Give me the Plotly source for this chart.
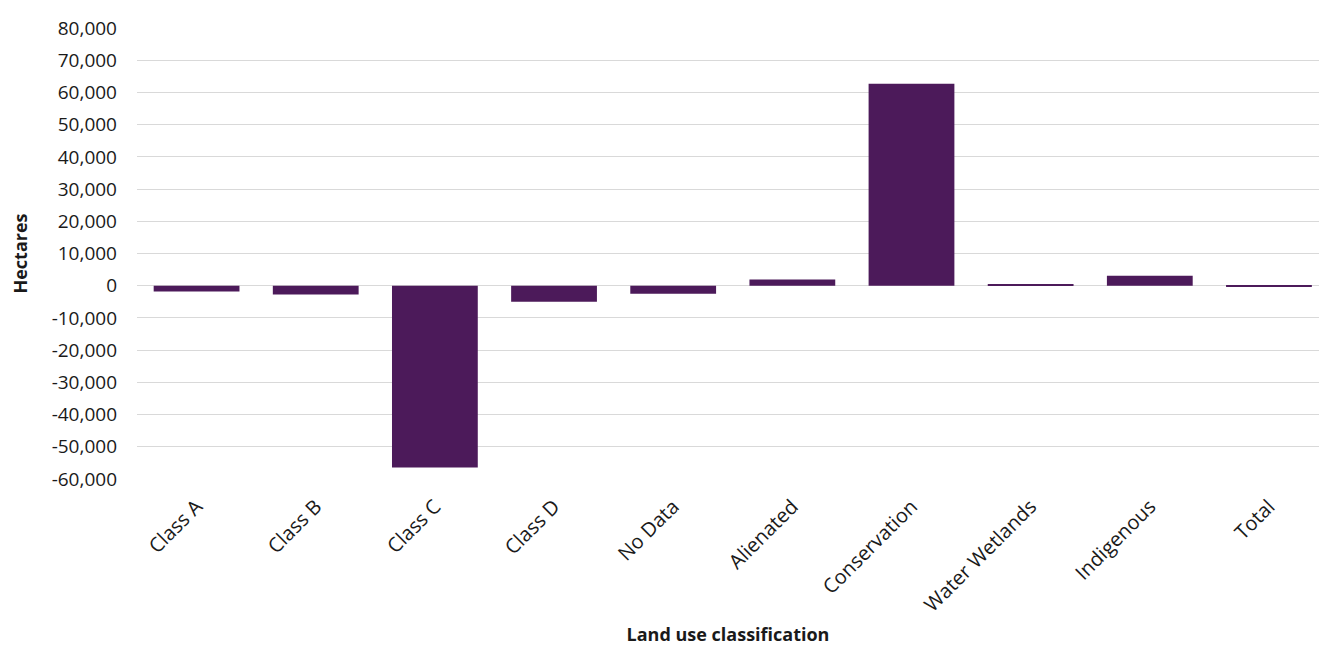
import plotly.graph_objects as go

categories = ["Class A", "Class B", "Class C", "Class D", "No Data", "Alienated",
              "Conservation", "Water Wetlands", "Indigenous", "Total"]
hectares = [-1800, -2700, -56400, -5000, -2500, 1900, 62700, 300, 3100, -400]
y_ticks = list(range(-60000, 80001, 10000))
y_labels = [f"{v:,}" for v in y_ticks]

BAR = "#4c1a5a"
FONT = "Open Sans, Noto Sans, sans-serif"

fig = go.Figure(go.Bar(x=categories, y=hectares, marker_color=BAR,
                       marker_line_width=0, hoverinfo="x+y"))

fig.update_layout(
    width=1319, height=646,
    margin=dict(l=137, r=0, t=28, b=167),
    paper_bgcolor="white", plot_bgcolor="white",
    font=dict(family=FONT, size=18, color="#1a1a1a"),
    bargap=0.28,
    showlegend=False,
)
fig.update_xaxes(
    range=[-0.5, 9.42], tickangle=-45, showgrid=False, showline=False,
    ticks="", tickfont=dict(size=20), ticklabelstandoff=11,
    title=dict(text="<b>Land use classification</b>", font=dict(size=18), standoff=24),
    automargin=False,
)
fig.update_yaxes(
    range=[-60000, 80000], tickvals=y_ticks, ticktext=y_labels,
    showgrid=True, gridcolor="#d9d9d9", gridwidth=1,
    zeroline=True, zerolinecolor="#d9d9d9", zerolinewidth=1,
    showline=False, ticks="", ticklabelstandoff=19,
    tickfont=dict(size=19),
    title=dict(text="<b>Hectares</b>", font=dict(size=18), standoff=19),
    automargin=False,
)

fig.write_html("out.html", config={"displayModeBar": False},
               post_script="document.body.style.margin='0';")
